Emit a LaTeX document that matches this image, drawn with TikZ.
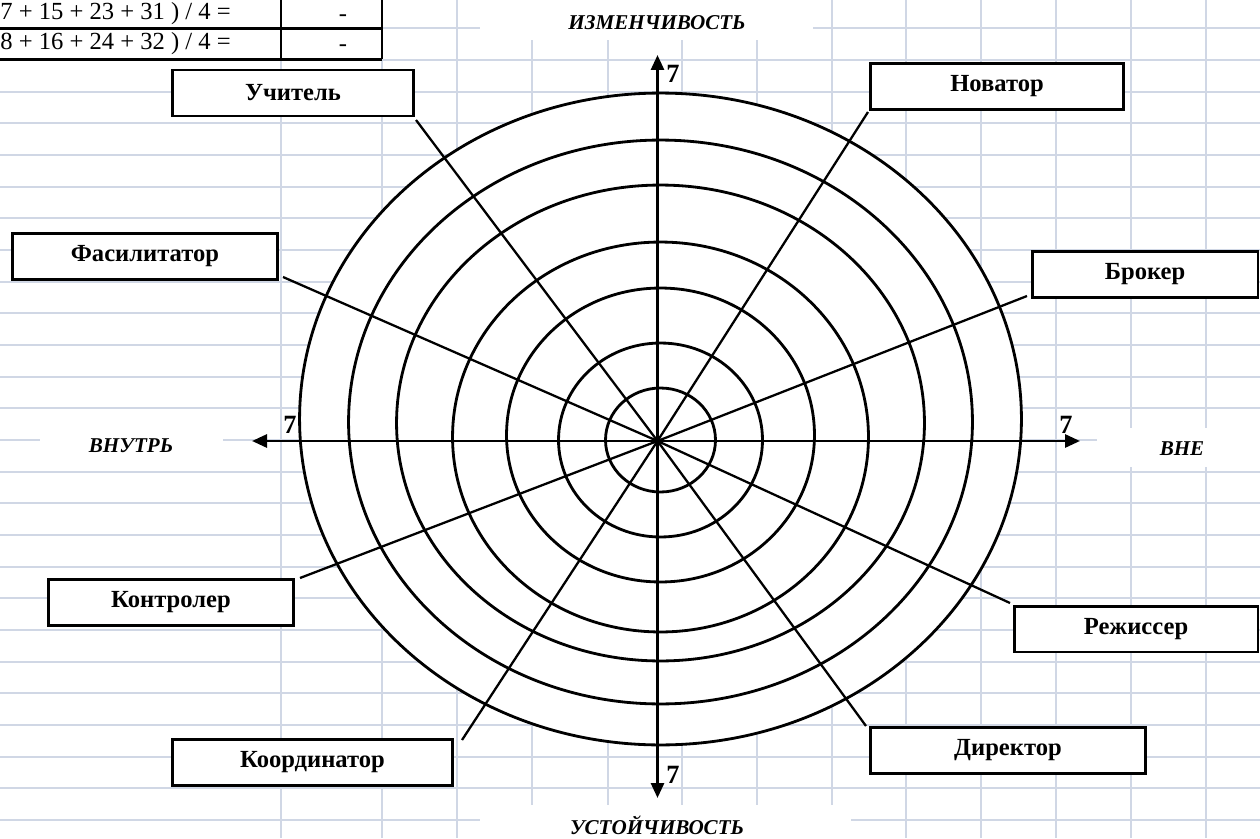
\documentclass[tikz,border=0pt]{standalone}
\usepackage{fontspec}
\setmainfont{Liberation Serif}
\usetikzlibrary{arrows.meta}

\definecolor{gridcol}{HTML}{D0D7E5}

\tikzset{
  cellline/.style={draw=gridcol, line width=1.1pt},
  ring/.style={line width=1.6pt},
  spoke/.style={line width=1.3pt},
  axis/.style={line width=1.6pt, {Triangle[length=0.3cm,width=0.26cm]}-{Triangle[length=0.3cm,width=0.26cm]}},
  rolebox/.style={draw, line width=1.7pt, fill=white, minimum height=0.92cm, inner sep=0pt, font=\fontsize{14}{16}\selectfont\bfseries},
  axislbl/.style={inner sep=0pt, font=\fontsize{12}{14}\selectfont\bfseries\itshape},
  seven/.style={inner sep=0pt, font=\fontsize{15}{17}\selectfont\bfseries},
  cell/.style={inner sep=0pt, font=\fontsize{14}{16}\selectfont}
}

\begin{document}
\begin{tikzpicture}[x=0.02cm, y=-0.02cm]
\useasboundingbox (0,0) rectangle (1260,838);
\fill[white] (0,0) rectangle (1260,838);

% Sheet grid
\foreach \gy in {0,...,25}
  \draw[cellline] (0,{28.3+31.67*\gy}) -- (1260,{28.3+31.67*\gy});
\foreach \gx in {281,382,457,532,608,682,757,832,906,981,1056,1131,1206}
  \draw[cellline] (\gx,0) -- (\gx,838);

% cells of the labels hide the grid
\fill[white] (480,0) rectangle (813,40);
\fill[white] (40,429) rectangle (223,468);
\fill[white] (1097,428) rectangle (1260,467);
\fill[white] (480,805) rectangle (851,838);

% Table
\draw[line width=1.4pt] (0,28.3) -- (382,28.3) (0,59.5) -- (382,59.5)
  (281,0) -- (281,59.5) (382,0) -- (382,59.5);
\node[cell, anchor=west] (sum1) at (0,14) {7 + 15 + 23 + 31 ) / 4 =};
\node[cell, anchor=west] (sum2) at (0,44) {8 + 16 + 24 + 32 ) / 4 =};
\node[cell] (val1) at (343,18) {-};
\node[cell] (val2) at (343,48) {-};

% Rings
\fill[white] (660.5,419) ellipse [x radius=7.22cm, y radius=6.52cm];
\foreach \cy/\rx/\ry in {440/1.10/1.04, 440/2.04/1.94, 435/3.08/2.94, 437/4.16/3.90,
                         423/5.28/4.76, 422/6.24/5.64, 419/7.22/6.52}
  \draw[ring] (660.5,\cy) ellipse [x radius=\rx cm, y radius=\ry cm];

\coordinate (O) at (657.5,441);

% Spokes
\coordinate (uchitel-s) at (416,120);
\coordinate (novator-s) at (868,112);
\coordinate (fasil-s) at (283,277);
\coordinate (broker-s) at (1027,296);
\coordinate (kontrol-s) at (300,578);
\coordinate (rezh-s) at (1010,603);
\coordinate (koord-s) at (462,740);
\coordinate (direktor-s) at (866,726);
\foreach \s in {uchitel,novator,fasil,broker,kontrol,rezh,koord,direktor}
  \draw[spoke] (\s-s) -- (O);

% Axes
\coordinate (ytop) at (657.5,55);
\coordinate (ybot) at (657.5,798);
\coordinate (xleft) at (252,441);
\coordinate (xright) at (1080,441);
\draw[axis] (ytop) -- (ybot);
\draw[axis] (xleft) -- (xright);

\node[seven] (s-top) at (673,74) {7};
\node[seven] (s-bot) at (673,775) {7};
\node[seven] (s-left) at (290,425) {7};
\node[seven] (s-right) at (1066,425) {7};

\node[axislbl] (izm) at (657,23) {ИЗМЕНЧИВОСТЬ};
\node[axislbl] (ust) at (657,825) {УСТОЙЧИВОСТЬ};
\node[axislbl] (vnutr) at (131,446) {ВНУТРЬ};
\node[axislbl] (vne) at (1182,449) {ВНЕ};

% Roles
\node[rolebox, minimum width=4.84cm] (uchitel) at (293,93) {Учитель};
\node[rolebox, minimum width=5.08cm] (novator) at (997,86.5) {Новатор};
\node[rolebox, minimum width=5.32cm] (fasil) at (145,256.5) {Фасилитатор};
\node[rolebox, minimum width=4.52cm] (broker) at (1145,274.5) {Брокер};
\node[rolebox, minimum width=4.92cm] (kontrol) at (171,602.5) {Контролер};
\node[rolebox, minimum width=4.88cm] (rezh) at (1136,629) {Режиссер};
\node[rolebox, minimum width=5.62cm] (koord) at (312.5,762.5) {Координатор};
\node[rolebox, minimum width=5.52cm] (direktor) at (1008,750.5) {Директор};

\end{tikzpicture}
\end{document}
